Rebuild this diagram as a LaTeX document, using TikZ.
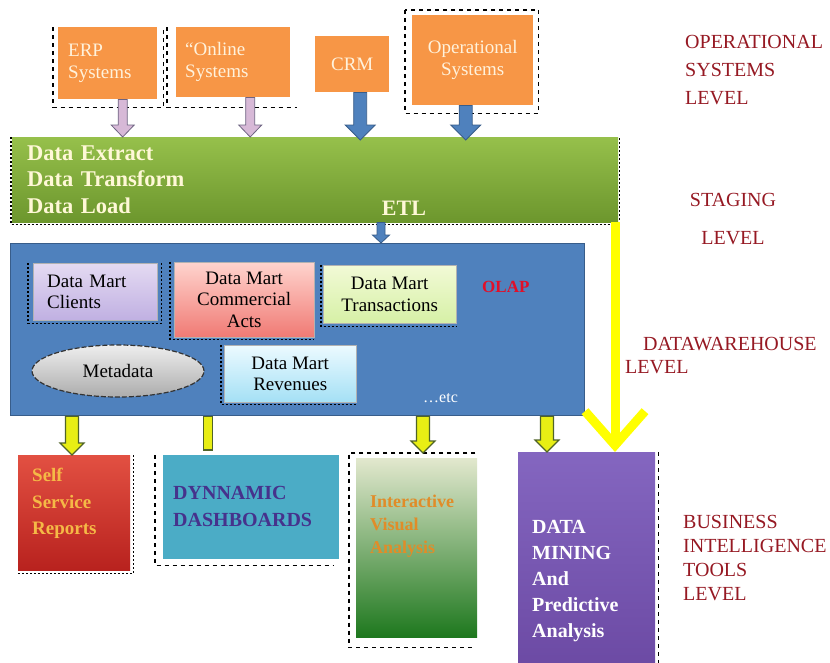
\documentclass[tikz,border=0pt]{standalone}
\usepackage{fontspec}
\setmainfont{Liberation Serif}
\usetikzlibrary{positioning,calc,shapes.geometric,arrows.meta}

\definecolor{sysorange}{RGB}{247,150,70}
\definecolor{systext}{RGB}{255,242,220}
\definecolor{etltop}{RGB}{150,192,75}
\definecolor{etlbot}{RGB}{108,150,45}
\definecolor{etltext}{RGB}{255,248,215}
\definecolor{dwblue}{RGB}{79,129,189}
\definecolor{dwborder}{RGB}{56,93,138}
\definecolor{arrowpink}{RGB}{215,185,215}
\definecolor{arrowgray}{RGB}{110,100,130}
\definecolor{arrowyellow}{RGB}{232,238,20}
\definecolor{arrowolive}{RGB}{80,100,40}
\definecolor{bigyellow}{RGB}{255,255,0}
\definecolor{lvlred}{RGB}{150,25,35}
\definecolor{olapred}{RGB}{225,15,40}
\definecolor{selftext}{RGB}{245,185,70}
\definecolor{dashtext}{RGB}{70,50,140}
\definecolor{vistext}{RGB}{225,140,40}

\begin{document}
\begin{tikzpicture}[
  x=1pt, y=-1pt,
  sysbox/.style={
    rectangle,
    fill=sysorange,
    text=systext,
    anchor=north west,
    inner sep=2pt,
    align=left,
    font=\fontsize{19}{22}\selectfont
  },
  martbox/.style={
    rectangle,
    anchor=north west,
    draw=black!30,
    inner sep=2pt,
    align=center,
    font=\fontsize{19}{21.5}\selectfont
  },
  toolbox/.style={rectangle, anchor=north west, inner sep=0pt},
  tooltext/.style={inner sep=0pt, align=left},
  lvllabel/.style={inner sep=0pt, align=left, text=lvlred},
  dashframe/.style={black, line width=1.6pt, dash pattern=on 4pt off 4pt},
  dotframe/.style={black, line width=1.4pt, dash pattern=on 2pt off 2pt},
  fatarrow/.style n args={3}{to path={let \p1=(\tikztostart), \p2=(\tikztotarget) in
    (\x1-#1,\y1) -- (\x1+#1,\y1) -- (\x1+#1,\y2+#3) -- (\x1+#2,\y2+#3) -- (\x1,\y2)
    -- (\x1-#2,\y2+#3) -- (\x1-#1,\y2+#3) -- cycle}},
  fatbar/.style={to path={let \p1=(\tikztostart), \p2=(\tikztotarget) in
    (\x1-#1,\y1) rectangle (\x1+#1,\y2)}},
  pinkarrow/.style={fill=arrowpink, draw=arrowgray, line width=0.8pt},
  bluearrow/.style={fill=dwblue, draw=dwborder, line width=0.8pt},
  yellowarrow/.style={fill=arrowyellow, draw=arrowolive, line width=1.2pt},
  dwline/.style={draw=bigyellow, line width=9pt, -{Straight Barb[length=34pt,width=60pt]}}
]
  \path[use as bounding box, fill=white] (0,0) rectangle (830,662);

  \node[sysbox, minimum width=99, minimum height=72, text width=79] (erp) at (58,27) {ERP\\Systems};
  \node[sysbox, minimum width=114, minimum height=70, text width=96] (online) at (176,27) {“Online\\Systems};
  \node[sysbox, align=center, minimum width=74, minimum height=56] (crm) at (315,36) {CRM};
  \node[sysbox, align=center, minimum width=121, minimum height=90] (opsys) at (412,15) {Operational\\Systems};

  \node[anchor=north west, minimum width=606, minimum height=85, text width=576, inner xsep=15pt,
    align=left, top color=etltop, bottom color=etlbot, text=etltext,
    font=\bfseries\fontsize{22.5}{26.5}\selectfont] (etl) at (12,137)
    {Data Extract\\Data Transform\\Data Load};
  \node[text=etltext, font=\bfseries\fontsize{22}{26}\selectfont] (etllbl) at (404,208) {ETL};

  \node[anchor=north west, minimum width=574, minimum height=172, fill=dwblue, draw=dwborder,
    line width=1.2pt, inner sep=0pt] (dw) at (10,243) {};
  \node[martbox, top color={rgb,255:red,228;green,218;blue,242}, bottom color={rgb,255:red,192;green,176;blue,226},
    minimum width=124, minimum height=57, text width=96, align=left] (clients) at (33,263) {Data Mart\\Clients};
  \node[martbox, top color={rgb,255:red,255;green,212;blue,206}, bottom color={rgb,255:red,240;green,122;blue,116},
    minimum width=140, minimum height=75] (commercial) at (174,262) {Data Mart\\Commercial\\Acts};
  \node[martbox, top color={rgb,255:red,242;green,250;blue,214}, bottom color={rgb,255:red,214;green,240;blue,166},
    minimum width=133, minimum height=58] (trans) at (323,265) {Data Mart\\Transactions};
  \node[ellipse, draw=black!80, line width=1.2pt, dash pattern=on 5pt off 2pt,
    top color={rgb,255:red,238;green,238;blue,238}, bottom color={rgb,255:red,172;green,172;blue,172},
    minimum width=172, minimum height=52, inner sep=0pt, font=\fontsize{19}{21.5}\selectfont] (meta) at (118,371) {Metadata};
  \node[martbox, top color={rgb,255:red,236;green,250;blue,255}, bottom color={rgb,255:red,164;green,224;blue,245},
    minimum width=132, minimum height=57] (revenue) at (224,345) {Data Mart\\Revenues};
  \node[anchor=west, inner sep=0pt, text=olapred, font=\bfseries\fontsize{17}{20}\selectfont] (olap) at (482,287) {OLAP};
  \node[anchor=west, inner sep=0pt, text=white, font=\fontsize{16}{19}\selectfont] (etc) at (423,398) {\ldots etc};

  \node[toolbox, minimum width=112, minimum height=115,
    top color={rgb,255:red,226;green,80;blue,66}, bottom color={rgb,255:red,184;green,34;blue,30}] (selfrep) at (18,455) {};
  \node[tooltext, below right=13pt and 14pt of selfrep.north west, text=selftext,
    font=\bfseries\fontsize{19}{26.5}\selectfont] (selftxt) {Self\\Service\\Reports};
  \node[toolbox, minimum width=176, minimum height=104, fill={rgb,255:red,75;green,172;blue,198}] (dash) at (163,455) {};
  \node[tooltext, below right=31pt and 10pt of dash.north west, text=dashtext,
    font=\bfseries\fontsize{20}{27}\selectfont] (dashtxt) {DYNNAMIC\\DASHBOARDS};
  \node[toolbox, minimum width=121, minimum height=179,
    top color={rgb,255:red,226;green,232;blue,206}, bottom color={rgb,255:red,30;green,120;blue,30}] (visual) at (356,458) {};
  \node[tooltext, below right=37pt and 14pt of visual.north west, text=vistext,
    font=\bfseries\fontsize{18}{23}\selectfont] (vistxt) {Interactive\\Visual\\Analysis};
  \node[toolbox, minimum width=137, minimum height=214,
    top color={rgb,255:red,132;green,102;blue,192}, bottom color={rgb,255:red,108;green,74;blue,164}] (mining) at (518,452) {};
  \node[tooltext, below right=68pt and 14pt of mining.north west, text=white,
    font=\bfseries\fontsize{20}{26}\selectfont] (mintxt) {DATA\\MINING\\And\\Predictive\\Analysis};

  \node[lvllabel, anchor=west, font=\fontsize{20}{28}\selectfont] (oplvl) at (685,70) {OPERATIONAL\\SYSTEMS\\LEVEL};
  \node[lvllabel, align=center, font=\fontsize{20}{38}\selectfont] (staglvl) at (733,219) {STAGING\\LEVEL};
  \node[lvllabel, anchor=west, font=\fontsize{20}{23}\selectfont] (dwlvl) at (625,356) {\hspace*{18pt}DATAWAREHOUSE\\LEVEL};
  \node[lvllabel, anchor=west, font=\fontsize{20}{24}\selectfont] (bilvl) at (683,558) {BUSINESS\\INTELLIGENCE\\TOOLS\\LEVEL};

  \draw[dashframe] ([xshift=-5pt]erp.north west) |- ([xshift=6pt,yshift=-8pt]erp.south east) -- ([xshift=6pt]erp.north east);
  \draw[dashframe] ([xshift=-9pt]online.north west) |- ([xshift=7pt,yshift=-10pt]online.south east);
  \draw[dashframe] ([xshift=-7pt,yshift=5pt]opsys.north west) rectangle ([xshift=5pt,yshift=-8pt]opsys.south east);
  \draw[dotframe] ([xshift=-1pt]etl.north west) |- ([xshift=1pt,yshift=-2pt]etl.south east) -- ([xshift=1pt]etl.north east);
  \draw[dotframe] ([xshift=-5pt]clients.north west) |- ([xshift=4pt,yshift=-3pt]clients.south east) -- ([xshift=4pt]clients.north east);
  \draw[dotframe] ([xshift=-4pt]commercial.north west) |- ([yshift=-2pt]commercial.south east);
  \draw[dotframe] ([xshift=-2pt]trans.north west) |- ([yshift=-3pt]trans.south east);
  \draw[dotframe] ([xshift=-3pt]revenue.north west) |- ([yshift=-2pt]revenue.south east);
  \draw[dotframe] ([xshift=3pt]selfrep.north east) |- ([yshift=-3pt]selfrep.south west);
  \draw[dashframe] ([xshift=-8pt]dash.north west) |- ([xshift=-6pt,yshift=-6pt]dash.south east);
  \draw[dashframe] ([xshift=-2pt,yshift=5pt]visual.north east) -| ([xshift=-7pt,yshift=-10pt]visual.south west)
    -- ([xshift=-2pt,yshift=-10pt]visual.south east);
  \draw[dashframe] ([xshift=3pt]mining.north east) -- ([xshift=3pt]mining.south east);

  \coordinate (erpout) at ([xshift=15pt]erp.south);
  \coordinate (onlineout) at ([xshift=17pt]online.south);
  \coordinate (crmout) at ([xshift=8pt]crm.south);
  \coordinate (opsysout) at ([xshift=-7pt]opsys.south);
  \draw[pinkarrow, fatarrow={4.5pt}{11.5pt}{12pt}] (erpout) to (erpout |- etl.north);
  \draw[pinkarrow, fatarrow={4.5pt}{11.5pt}{12pt}] (onlineout) to (onlineout |- etl.north);
  \draw[bluearrow, fatarrow={6.5pt}{15pt}{15pt}] (crmout) to ([yshift=-3pt]crmout |- etl.north);
  \draw[bluearrow, fatarrow={6.5pt}{15pt}{15pt}] (opsysout) to ([yshift=-3pt]opsysout |- etl.north);

  \coordinate (etlout) at (381,0);
  \draw[bluearrow, fatarrow={4pt}{8.5pt}{8pt}] (etlout |- etl.south) to (etlout |- dw.north);

  \coordinate (dwout1) at (72,0);
  \coordinate (dwout2) at (208,0);
  \coordinate (dwout3) at (423,0);
  \coordinate (dwout4) at (547,0);
  \draw[yellowarrow, fatarrow={6.5pt}{12pt}{12pt}] (dwout1 |- dw.south) to (dwout1 |- selfrep.north);
  \draw[yellowarrow, fatbar=4.5pt] (dwout2 |- dw.south) to ([yshift=5pt]dwout2 |- dash.north);
  \draw[yellowarrow, fatarrow={6.5pt}{12pt}{12pt}] (dwout3 |- dw.south) to ([yshift=5pt]dwout3 |- visual.north);
  \draw[yellowarrow, fatarrow={6.5pt}{12pt}{12pt}] (dwout4 |- dw.south) to (dwout4 |- mining.north);

  \coordinate (dwdrop) at (615,222);
  \draw[dwline] (dwdrop) -- (dwdrop |- mining.north);
\end{tikzpicture}
\end{document}
